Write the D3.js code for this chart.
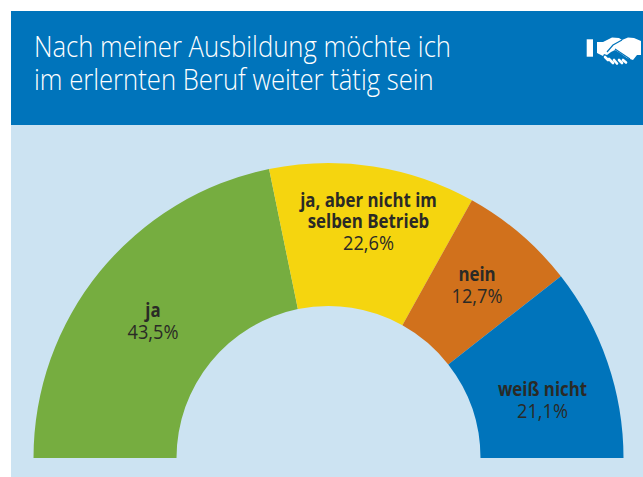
<!DOCTYPE html>
<html><head><meta charset="utf-8">
<script src="https://cdn.jsdelivr.net/npm/d3@7"></script>
<style>html,body{margin:0;padding:0;background:#fff}svg{display:block}text{font-family:"Open Sans","Liberation Sans",sans-serif}</style>
</head><body><div id="c"></div>
<script>
const categories=[["ja"],["ja, aber nicht im","selben Betrieb"],["nein"],["weiß nicht"]];
const values=[43.5,22.6,12.7,21.1];
const valueLabels=["43,5%","22,6%","12,7%","21,1%"];
const colors=["#76ad40","#f5d50f","#d1711c","#0074bb"];
const titleLines=["Nach meiner Ausbildung möchte ich","im erlernten Beruf weiter tätig sein"];
const labelAnchors=[[153,339],[368.5,250],[477,303],[542.5,418]];
const condensedTitle=0.885, condensedBold=0.843, condensedValue=0.91;

const svg=d3.select("#c").append("svg").attr("width",643).attr("height",477);
svg.append("rect").attr("x",11).attr("y",125).attr("width",632).attr("height",352).attr("fill","#cce3f2");
svg.append("rect").attr("x",11).attr("y",11).attr("width",632).attr("height",114).attr("fill","#0074bb");
svg.selectAll("text.t").data(titleLines).join("text").attr("class","t")
 .attr("transform",(d,i)=>`translate(34,${57+i*33}) scale(${condensedTitle},1)`)
 .attr("fill","#fff").attr("font-size",29).attr("font-weight",300).text(d=>d);

const cx=328.5,cy=458;
const pie=d3.pie().sort(null).startAngle(-Math.PI/2).endAngle(Math.PI/2);
const arc=d3.arc().innerRadius(152).outerRadius(295);
const g=svg.append("g").attr("transform",`translate(${cx},${cy})`);
g.selectAll("path").data(pie(values)).join("path").attr("d",arc).attr("fill",(d,i)=>colors[i]);

const lab=svg.selectAll("g.l").data(categories).join("g").attr("class","l");
lab.each(function(c,i){
  const n=d3.select(this),[x,y]=labelAnchors[i],lh=21;
  c.forEach((s,j)=>n.append("text")
    .attr("transform",`translate(${x},${y-22-(c.length-1-j)*lh}) scale(${condensedBold},1)`)
    .attr("text-anchor","middle").attr("font-size",20).attr("font-weight",700).attr("fill","#2a2a26").text(s));
  n.append("text").attr("transform",`translate(${x},${y}) scale(${condensedValue},1)`)
    .attr("text-anchor","middle").attr("font-size",20).attr("font-weight",400).attr("fill","#2a2a26").text(valueLabels[i]);
});

// handshake icon (decoration)
const ic=svg.append("g").attr("transform","translate(586,39)");
ic.append("rect").attr("x",0.7).attr("y",0.3).attr("width",6.3).attr("height",17.4).attr("fill","#fff");
ic.append("path").attr("fill","#fff").attr("d","M11 3 L17 3 L26 -1.5 L33 -1 L36 1 L42 -1.5 L48 -1 L55 2 L55 16 L51 16 L47 21 L41 19 L34 14 L29 11 L25 13 L21 16 L18 15 L17 17 L11 14 Z");
ic.append("path").attr("fill","none").attr("stroke","#0074bb").attr("stroke-width",1.2).attr("d","M36 1 L27 6 L21 13 M29 10 L38 16 L44 20");
ic.append("path").attr("fill","none").attr("stroke","#fff").attr("stroke-width",2.6).attr("stroke-linecap","round").attr("d","M19 18 L22 21 M23 20 L27 24 M28 21 L31 24.5 M33 21 L36 24 M37 21 L40 23.5");
</script></body></html>
